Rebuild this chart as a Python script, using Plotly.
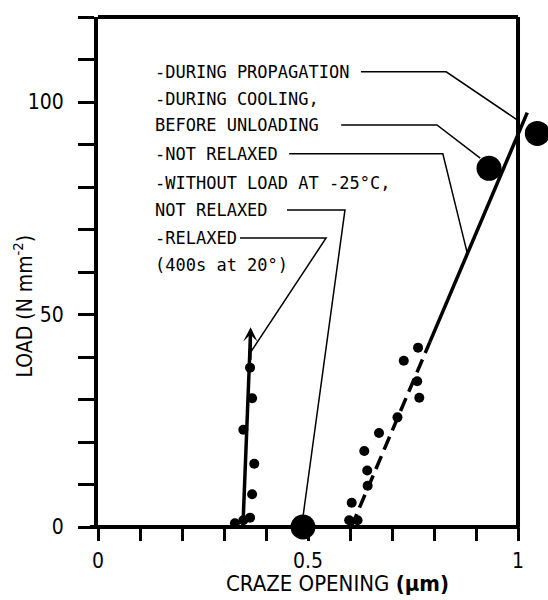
import plotly.graph_objects as go

# ---- data ----
relaxed_x = [0.326, 0.346, 0.362, 0.367, 0.372, 0.346, 0.367, 0.362]
relaxed_y = [0.9, 1.6, 2.2, 7.7, 14.9, 22.9, 30.3, 37.5]

notrelaxed_x = [0.598, 0.618, 0.604, 0.642, 0.641, 0.634, 0.669, 0.713, 0.728, 0.762, 0.760, 0.765]
notrelaxed_y = [1.6, 1.6, 5.7, 9.7, 13.3, 17.9, 22.1, 25.8, 39.1, 42.2, 34.3, 30.4]

big_x = [0.488, 0.931, 1.046]
big_y = [0.0, 84.4, 92.6]

relaxed_fit_x = [0.345, 0.363]
relaxed_fit_y = [0.0, 45.0]

notrelaxed_fit_lo_x = [0.603, 0.790]
notrelaxed_fit_lo_y = [0.0, 43.5]
notrelaxed_fit_hi_x = [0.790, 1.022]
notrelaxed_fit_hi_y = [43.5, 97.5]

x_tickvals = [0, 0.1, 0.2, 0.3, 0.4, 0.5, 0.6, 0.7, 0.8, 0.9, 1.0]
x_ticktext = ["0", "", "", "", "", "0.5", "", "", "", "", "1"]
y_tickvals = [0, 10, 20, 30, 40, 50, 60, 70, 80, 90, 100, 110, 120]
y_ticktext = ["0", "", "", "", "", "50", "", "", "", "", "100", "", ""]

label_texts = [
    "-DURING PROPAGATION",
    "-DURING COOLING,",
    "BEFORE UNLOADING",
    "-NOT RELAXED",
    "-WITHOUT LOAD AT -25°C,",
    "NOT RELAXED",
    "-RELAXED",
    "(400s at 20°)",
]
label_y = [107.1, 100.7, 94.6, 87.8, 81.0, 74.6, 68.0, 61.6]

# leader lines (data coordinates): horizontal start, corner, end
leaders = [
    [(0.626, 107.1), (0.829, 107.1), (0.998, 95.8)],
    [(0.579, 94.6), (0.807, 94.6), (0.910, 86.8)],
    [(0.455, 87.8), (0.821, 87.8), (0.879, 64.5)],
    [(0.450, 74.6), (0.588, 74.6), (0.488, 2.4)],
    [(0.338, 68.0), (0.543, 68.0), (0.364, 41.2)],
]

X_MAX = 1.0714  # axis range extends past the frame so the outer circle is drawn
FRAME = 1.0 / X_MAX  # paper position of x = 1

fig = go.Figure()

# fitted lines
fig.add_trace(go.Scatter(
    x=relaxed_fit_x, y=relaxed_fit_y, mode="lines",
    line=dict(color="black", width=3.5),
    cliponaxis=False, showlegend=False, hoverinfo="skip"))
fig.add_trace(go.Scatter(
    x=notrelaxed_fit_lo_x, y=notrelaxed_fit_lo_y, mode="lines",
    line=dict(color="black", width=3.5, dash="14px,7px"),
    cliponaxis=False, showlegend=False, hoverinfo="skip"))
fig.add_trace(go.Scatter(
    x=notrelaxed_fit_hi_x, y=notrelaxed_fit_hi_y, mode="lines",
    line=dict(color="black", width=3.5),
    cliponaxis=False, showlegend=False, hoverinfo="skip"))

# arrowhead at the top of the relaxed line
fig.add_annotation(x=relaxed_fit_x[1] + 0.0004, y=relaxed_fit_y[1] + 2.0,
                   ax=relaxed_fit_x[1] - 0.001, ay=relaxed_fit_y[1] - 6,
                   xref="x", yref="y", axref="x", ayref="y", text="",
                   showarrow=True, arrowhead=3, arrowsize=0.8, arrowwidth=3,
                   arrowcolor="black")

# data points
fig.add_trace(go.Scatter(
    x=relaxed_x, y=relaxed_y, mode="markers",
    marker=dict(color="black", size=10), cliponaxis=False, showlegend=False))
fig.add_trace(go.Scatter(
    x=notrelaxed_x, y=notrelaxed_y, mode="markers",
    marker=dict(color="black", size=10), cliponaxis=False, showlegend=False))
fig.add_trace(go.Scatter(
    x=big_x, y=big_y, mode="markers",
    marker=dict(color="black", size=25), cliponaxis=False, showlegend=False))

# leader lines
for pts in leaders:
    path = "M {} {} L {} {} L {} {}".format(pts[0][0], pts[0][1], pts[1][0], pts[1][1], pts[2][0], pts[2][1])
    fig.add_shape(type="path", path=path, xref="x", yref="y",
                  line=dict(color="black", width=1.5))

# frame: top, right, bottom
fig.add_shape(type="line", xref="paper", yref="paper", x0=0, x1=FRAME, y0=1, y1=1,
              line=dict(color="black", width=4))
fig.add_shape(type="line", xref="paper", yref="paper", x0=FRAME, x1=FRAME, y0=0, y1=1,
              line=dict(color="black", width=4))
fig.add_shape(type="line", xref="paper", yref="paper", x0=-0.018, x1=FRAME + 0.004, y0=0, y1=0,
              line=dict(color="black", width=4))

# label block
for t, yv in zip(label_texts, label_y):
    fig.add_annotation(x=0.13, y=yv, xref="x", yref="y", text=t, showarrow=False,
                       xanchor="left", yanchor="middle",
                       font=dict(family="DejaVu Sans Mono", size=17, color="black"))

title_font = "DejaVu Sans Condensed, Liberation Sans Narrow, sans-serif"

# axis titles
fig.add_annotation(x=-0.166, y=0.433, xref="paper", yref="paper",
                   text="LOAD (N mm<sup>-2</sup>)", textangle=-90, showarrow=False,
                   xanchor="center", yanchor="middle",
                   font=dict(family=title_font, size=21, color="black"))
fig.add_annotation(x=0.533, y=-0.110, xref="paper", yref="paper",
                   text="CRAZE OPENING <b>(µm)</b>", showarrow=False,
                   xanchor="center", yanchor="middle",
                   font=dict(family=title_font, size=22, color="black"))

tickfont = dict(family=title_font, size=21, color="black")

fig.update_layout(
    width=548, height=600,
    margin=dict(l=98, r=0, t=17, b=73),
    paper_bgcolor="white", plot_bgcolor="white",
    showlegend=False,
    xaxis=dict(range=[0, X_MAX], tickvals=x_tickvals, ticktext=x_ticktext,
               ticks="outside", ticklen=13, tickwidth=2.5, tickcolor="black",
               showline=False, showgrid=False, zeroline=False,
               tickfont=tickfont, ticklabelstandoff=2),
    yaxis=dict(range=[0, 120], tickvals=y_tickvals, ticktext=y_ticktext,
               ticks="outside", ticklen=16, tickwidth=2.5, tickcolor="black",
               showline=True, linewidth=4, linecolor="black", mirror=False,
               showgrid=False, zeroline=False, tickfont=tickfont, ticklabelstandoff=10),
)

fig.write_html("out.html")
